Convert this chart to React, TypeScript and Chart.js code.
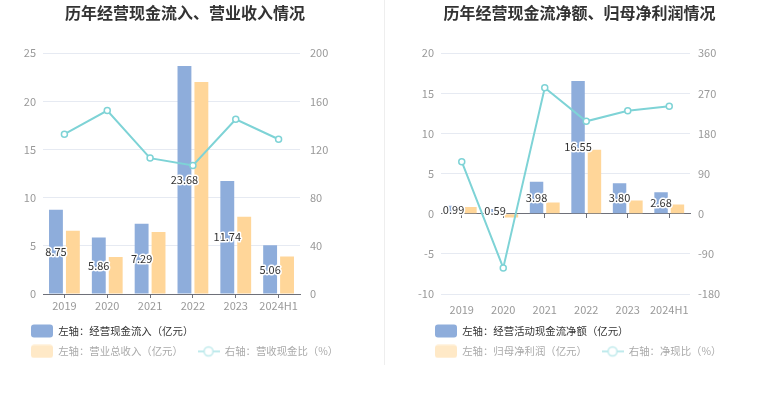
import React, { useEffect, useRef } from 'react';
import { Chart, registerables } from 'chart.js';

Chart.register(...registerables);

// ---------- data ----------
const years = ['2019', '2020', '2021', '2022', '2023', '2024H1'];

// left chart
const cashInflow = [8.75, 5.86, 7.29, 23.68, 11.74, 5.06];
const totalRevenue = [6.57, 3.84, 6.43, 22.03, 8.02, 3.9];
const revenueCashRatio = [132.8, 152.4, 112.9, 106.8, 145.2, 128.6];

// right chart
const netOperatingCash = [0.99, 0.59, 3.98, 16.55, 3.8, 2.68];
const netProfit = [0.83, -0.46, 1.41, 7.98, 1.66, 1.16];
const netCashRatio = [116.9, -121.6, 282.9, 207.4, 231.3, 241.1];

// axis ranges [min, max, step]
const leftChartLeftAxis = [0, 25, 5];
const leftChartRightAxis = [0, 200, 40];
const rightChartLeftAxis = [-10, 20, 5];
const rightChartRightAxis = [-180, 360, 90];

// texts
const leftTitle = '历年经营现金流入、营业收入情况';
const rightTitle = '历年经营现金流净额、归母净利润情况';
const leftLegend = ['左轴：经营现金流入（亿元）', '左轴：营业总收入（亿元）', '右轴：营收现金比（%）'];
const rightLegend = ['左轴：经营活动现金流净额（亿元）', '左轴：归母净利润（亿元）', '右轴：净现比（%）'];

// ---------- styles ----------
const FONT = "'Noto Sans CJK SC', 'Noto Sans', sans-serif";
const BLUE = '#8EADDB';
const ORANGE = '#FFD699';
const TEAL = '#7ED3D6';
const GRID = '#E6EAF2';
const AXIS = '#6E7079';
const TICK = '#999999';

function boxIcon(color: string) {
  const c = document.createElement('canvas');
  c.width = 22;
  c.height = 14;
  const g = c.getContext('2d')!;
  g.fillStyle = color;
  g.beginPath();
  (g as any).roundRect(0, 0.5, 22, 13, 3);
  g.fill();
  return c;
}

function lineIcon(color: string) {
  const c = document.createElement('canvas');
  c.width = 22;
  c.height = 14;
  const g = c.getContext('2d')!;
  g.strokeStyle = color;
  g.lineWidth = 2;
  g.beginPath();
  g.moveTo(0, 7);
  g.lineTo(22, 7);
  g.stroke();
  g.beginPath();
  g.arc(11, 7, 4.5, 0, Math.PI * 2);
  g.fillStyle = '#fff';
  g.fill();
  g.lineWidth = 1.5;
  g.stroke();
  return c;
}

const barLabelPlugin = {
  id: 'barLabels',
  afterDatasetsDraw(chart: any) {
    const ctx = chart.ctx;
    const meta = chart.getDatasetMeta(0);
    const data = chart.data.datasets[0].data as number[];
    ctx.save();
    ctx.font = `11px ${FONT}`;
    ctx.textAlign = 'center';
    ctx.textBaseline = 'middle';
    ctx.lineJoin = 'round';
    ctx.lineWidth = 3;
    ctx.strokeStyle = '#fff';
    ctx.fillStyle = '#333';
    meta.data.forEach((el: any, i: number) => {
      const p = el.getProps(['x', 'y', 'base'], true);
      const cy = (p.y + p.base) / 2;
      const t = Number(data[i]).toFixed(2);
      ctx.strokeText(t, p.x, cy);
      ctx.fillText(t, p.x, cy);
    });
    ctx.restore();
  },
};

function legendShiftPlugin(dx: number) {
  return {
    id: 'legendShift',
    afterLayout(chart: any) {
      const l = chart.legend;
      if (l && dx) {
        l.left += dx;
        l.right += dx;
      }
    },
  };
}

function buildConfig(opts: {
  title: string;
  legend: string[];
  bars1: number[];
  bars2: number[];
  line: number[];
  lAxis: number[];
  rAxis: number[];
  pad: { left: number; right: number };
  lWidth: number;
  rWidth: number;
  lPad: number;
  rPad: number;
  zeroAxis: boolean;
  legendDx: number;
}) {
  const icons = [boxIcon(BLUE), boxIcon('#FFE9C7'), lineIcon('#BFEAEC')];
  const fills = [BLUE, '#FFE9C7', '#BFEAEC'];
  const fontColors = ['#333333', '#AAAAAA', '#AAAAAA'];
  const texts = [opts.legend[0], opts.legend[1] + '  ', opts.legend[2]];

  const xTicks = { color: TICK, padding: 1, font: { size: 11 }, maxRotation: 0, minRotation: 0, autoSkip: false };

  const scales: any = {
    x: {
      type: 'category',
      offset: true,
      grid: opts.zeroAxis
        ? { display: false }
        : { offset: false, drawOnChartArea: false, drawTicks: true, tickLength: 4, tickColor: AXIS },
      border: opts.zeroAxis ? { display: false } : { display: true, color: AXIS },
      ticks: xTicks,
      afterFit(s: any) {
        s.height = 21.8;
      },
    },
    y: {
      position: 'left',
      min: opts.lAxis[0],
      max: opts.lAxis[1],
      ticks: { stepSize: opts.lAxis[2], padding: opts.lPad, color: TICK, font: { size: 11 } },
      grid: { color: GRID, drawTicks: false },
      border: { display: false },
      afterFit(s: any) {
        s.width = opts.lWidth;
      },
    },
    y1: {
      position: 'right',
      min: opts.rAxis[0],
      max: opts.rAxis[1],
      ticks: { stepSize: opts.rAxis[2], padding: opts.rPad, color: TICK, font: { size: 11 } },
      grid: { drawOnChartArea: false, drawTicks: false },
      border: { display: false },
      afterFit(s: any) {
        s.width = opts.rWidth;
      },
    },
  };
  if (opts.zeroAxis) {
    scales.x2 = {
      type: 'category',
      axis: 'x',
      position: { y: 0 },
      offset: true,
      grid: { offset: false, drawOnChartArea: false, drawTicks: true, tickLength: 4, tickColor: AXIS },
      border: { display: true, color: AXIS },
      ticks: { callback: () => '', maxRotation: 0, autoSkip: false },
    };
  }

  return {
    type: 'bar' as const,
    data: {
      labels: years,
      datasets: [
        {
          type: 'bar' as const,
          label: opts.legend[0],
          data: opts.bars1,
          backgroundColor: BLUE,
          xAxisID: 'x',
          yAxisID: 'y',
          barPercentage: 0.82,
          categoryPercentage: 0.79,
          order: 1,
        },
        {
          type: 'bar' as const,
          label: opts.legend[1],
          data: opts.bars2,
          backgroundColor: ORANGE,
          xAxisID: 'x',
          yAxisID: 'y',
          barPercentage: 0.82,
          categoryPercentage: 0.79,
          order: 1,
        },
        {
          type: 'line' as const,
          label: opts.legend[2],
          data: opts.line,
          borderColor: TEAL,
          borderWidth: 2,
          pointRadius: 3,
          pointBackgroundColor: '#fff',
          pointBorderColor: TEAL,
          pointBorderWidth: 1.5,
          tension: 0,
          xAxisID: 'x',
          yAxisID: 'y1',
          order: 0,
        },
      ],
    },
    options: {
      responsive: false,
      animation: false as const,
      devicePixelRatio: 1,
      layout: { padding: { left: opts.pad.left, right: opts.pad.right, top: 0, bottom: 26.4 } },
      scales,
      plugins: {
        tooltip: { enabled: false },
        title: {
          display: true,
          text: opts.title,
          color: '#333333',
          font: { size: 16, weight: 'bold' as const, family: FONT },
          padding: { top: 3, bottom: 31.1 },
        },
        legend: {
          position: 'bottom' as const,
          align: 'start' as const,
          labels: {
            usePointStyle: true,
            pointStyleWidth: 22,
            padding: 10,
            font: { size: 10.4, family: FONT },
            generateLabels: () =>
              texts.map((t, i) => ({
                text: t,
                fillStyle: fills[i],
                strokeStyle: 'transparent',
                lineWidth: 0,
                hidden: false,
                datasetIndex: i,
                pointStyle: icons[i],
                fontColor: fontColors[i],
              })),
          },
        },
      },
    },
    plugins: [barLabelPlugin, legendShiftPlugin(opts.legendDx)],
  };
}

function ChartCanvas(props: { width: number; height: number; make: () => any }) {
  const ref = useRef<HTMLCanvasElement | null>(null);
  useEffect(() => {
    if (!ref.current) return;
    const chart = new Chart(ref.current, props.make());
    return () => chart.destroy();
  }, []);
  return <canvas ref={ref} width={props.width} height={props.height} style={{ display: 'block' }} />;
}

export default function App() {
  Chart.defaults.font.family = FONT;
  Chart.defaults.color = TICK;
  return (
    <div style={{ position: 'absolute', left: 0, top: 0, width: 765, height: 393, background: '#fff' }}>
      <div style={{ position: 'absolute', left: 0, top: 0 }}>
        <ChartCanvas
          width={384}
          height={393}
          make={() =>
            buildConfig({
              title: leftTitle,
              legend: leftLegend,
              bars1: cashInflow,
              bars2: totalRevenue,
              line: revenueCashRatio,
              lAxis: leftChartLeftAxis,
              rAxis: leftChartRightAxis,
              pad: { left: 21, right: 35 },
              lWidth: 22,
              rWidth: 49,
              lPad: 7,
              rPad: 10,
              zeroAxis: false,
              legendDx: 0,
            })
          }
        />
      </div>
      <div style={{ position: 'absolute', left: 384, top: 0, width: 1, height: 365, background: '#EEEEEE' }} />
      <div style={{ position: 'absolute', left: 385, top: 0 }}>
        <ChartCanvas
          width={380}
          height={393}
          make={() =>
            buildConfig({
              title: rightTitle,
              legend: rightLegend,
              bars1: netOperatingCash,
              bars2: netProfit,
              line: netCashRatio,
              lAxis: rightChartLeftAxis,
              rAxis: rightChartRightAxis,
              pad: { left: 22, right: 13 },
              lWidth: 34,
              rWidth: 62,
              lPad: 7,
              rPad: 8,
              zeroAxis: true,
              legendDx: 18,
            })
          }
        />
      </div>
    </div>
  );
}
